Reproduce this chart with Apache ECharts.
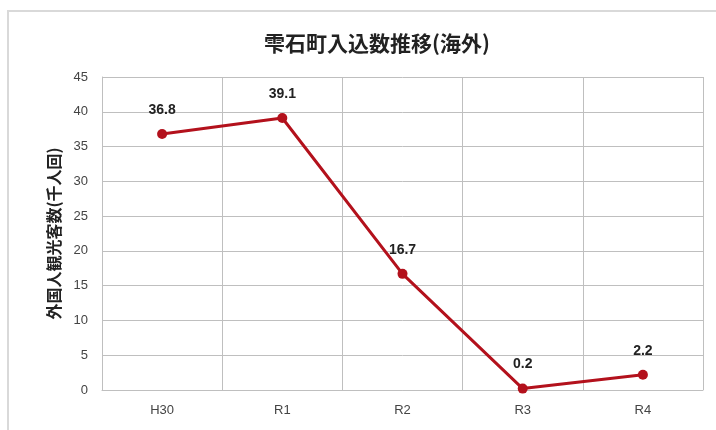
<!DOCTYPE html>
<html lang="ja">
<head>
    <meta charset="UTF-8">
    <title>雫石町入込数推移(海外)</title>
    <style>
        html, body { margin: 0; padding: 0; background: #fff; }
        #main { width: 716px; height: 430px; }
    </style>
</head>
<body>
<div id="main"></div>
<script src="https://cdn.jsdelivr.net/npm/echarts@6/dist/echarts.min.js"></script>
<script>
    var categories = ['H30', 'R1', 'R2', 'R3', 'R4'];
    var visitors = [36.8, 39.1, 16.7, 0.2, 2.2];
    var yTicks = { min: 0, max: 45, interval: 5 };

    var myChart = echarts.init(document.getElementById('main'));
    var font = '"Liberation Sans Narrow", "Liberation Sans", "Noto Sans CJK JP", sans-serif';

    var option = {
        backgroundColor: '#fff',
        graphic: [{
            type: 'rect',
            shape: { x: 8, y: 11, width: 716, height: 430 },
            style: { fill: 'none', stroke: '#d9d9d9', lineWidth: 2 },
            silent: true
        }],
        title: {
            text: '雫石町入込数推移(海外)',
            left: 372,
            top: 28,
            textAlign: 'center',
            textStyle: { fontFamily: '"Noto Sans CJK JP"', fontSize: 21, fontWeight: 'bold', color: '#222' }
        },
        grid: { left: 102, right: 13, top: 77, bottom: 40 },
        xAxis: {
            type: 'category',
            data: categories,
            boundaryGap: true,
            axisLine: { lineStyle: { color: '#bfbfbf' } },
            axisTick: { show: false },
            splitLine: { show: true, lineStyle: { color: '#bfbfbf' } },
            axisLabel: { color: '#444', fontSize: 13, fontFamily: font, margin: 14 }
        },
        yAxis: {
            type: 'value',
            min: yTicks.min,
            max: yTicks.max,
            interval: yTicks.interval,
            name: '外国人観光客数(千人回)',
            nameLocation: 'middle',
            nameGap: 40,
            nameTextStyle: { fontFamily: '"Noto Sans CJK JP"', fontSize: 16, fontWeight: 'bold', color: '#222' },
            axisLine: { show: true, lineStyle: { color: '#bfbfbf' } },
            axisTick: { show: false },
            splitLine: { lineStyle: { color: '#bfbfbf' } },
            axisLabel: { color: '#444', fontSize: 13, fontFamily: font, margin: 14 }
        },
        series: [{
            type: 'line',
            data: visitors,
            symbol: 'circle',
            symbolSize: 10,
            lineStyle: { color: '#b3111c', width: 3 },
            itemStyle: { color: '#b3111c' },
            label: {
                show: true,
                position: 'top',
                distance: 12,
                formatter: function (p) { return p.value.toFixed(1); },
                color: '#222',
                fontSize: 14,
                fontWeight: 'bold',
                fontFamily: font
            }
        }]
    };

    myChart.setOption(option);
</script>
</body>
</html>
